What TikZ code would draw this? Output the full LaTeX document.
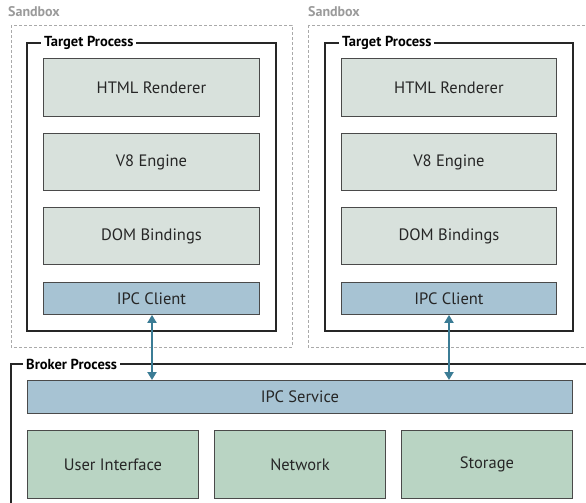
\documentclass[tikz,border=0pt]{standalone}
\usepackage{fontspec}
\usetikzlibrary{arrows.meta}
\setmainfont{PT Sans}
\definecolor{compfill}{HTML}{D8E1DC}
\definecolor{ipcfill}{HTML}{A7C3D3}
\definecolor{brokfill}{HTML}{B9D4C3}
\definecolor{boxline}{HTML}{4A4A4A}
\definecolor{sandline}{HTML}{AAAAAA}
\definecolor{sandtext}{HTML}{9A9A9A}
\definecolor{linkcol}{HTML}{3B7C95}
\tikzset{
  sandbox/.style={draw=sandline, line width=0.8pt, dash pattern=on 3pt off 2pt},
  procbox/.style={draw=black!85, line width=1.8pt},
  comp/.style={draw=boxline, line width=0.9pt, fill=compfill, anchor=north west,
    inner sep=0pt, font=\fontsize{16.5}{19}\selectfont, text=black!85},
  ipc/.style={comp, fill=ipcfill},
  brok/.style={comp, fill=brokfill},
  proclabel/.style={fill=white, inner xsep=3pt, inner ysep=1pt,
    font=\bfseries\fontsize{14.5}{16}\selectfont, anchor=west},
  sandlabel/.style={text=sandtext, inner sep=0pt,
    font=\bfseries\fontsize{14}{16}\selectfont, anchor=west},
  link/.style={draw=linkcol, line width=2pt, {Triangle[length=8pt,width=9pt]}-{Triangle[length=8pt,width=9pt]}}
}
\begin{document}
\begin{tikzpicture}[x=1pt,y=-1pt]
\useasboundingbox (0,0) rectangle (586,503);
\clip (0,0) rectangle (586,503);

% sandboxes
\draw[sandbox] (11,25) rectangle (292,347);
\draw[sandbox] (308,25) rectangle (592,347);
\node[sandlabel] (sb1) at (8,12) {Sandbox};
\node[sandlabel] (sb2) at (308,12) {Sandbox};

% target processes
\draw[procbox] (27,43) rectangle (276,331);
\draw[procbox] (325,43) rectangle (573,331);
\node[proclabel] (tp1) at (41,43) {Target Process};
\node[proclabel] (tp2) at (339,43) {Target Process};

% components of the left target process
\node[comp, minimum width=216pt, minimum height=58pt] (html1) at (43,58) {HTML Renderer};
\node[comp, minimum width=216pt, minimum height=57pt] (v81) at (43,133) {V8 Engine};
\node[comp, minimum width=216pt, minimum height=57pt] (dom1) at (43,207) {DOM Bindings};
\node[ipc, minimum width=216pt, minimum height=32pt] (cli1) at (43,282) {IPC Client};

% components of the right target process
\node[comp, minimum width=215pt, minimum height=58pt] (html2) at (341,58) {HTML Renderer};
\node[comp, minimum width=215pt, minimum height=57pt] (v82) at (341,133) {V8 Engine};
\node[comp, minimum width=215pt, minimum height=57pt] (dom2) at (341,207) {DOM Bindings};
\node[ipc, minimum width=215pt, minimum height=32pt] (cli2) at (341,282) {IPC Client};

% broker process
\draw[procbox] (11,515) -- (11,364) -- (600,364);
\node[proclabel] (bp) at (23,364) {Broker Process};
\node[ipc, minimum width=545pt, minimum height=33pt] (svc) at (27,380) {IPC Service};
\node[brok, minimum width=171pt, minimum height=68pt] (ui) at (27,430) {User Interface};
\node[brok, minimum width=171pt, minimum height=68pt] (net) at (214,430) {Network};
\node[brok, minimum width=171pt, minimum height=68pt] (sto) at (401,430) {Storage};

% IPC links
\coordinate (s1) at (cli1.south -| 152,0);
\coordinate (e1) at (svc.north -| 152,0);
\coordinate (s2) at (cli2.south -| 449,0);
\coordinate (e2) at (svc.north -| 449,0);
\draw[link] (s1) -- (e1);
\draw[link] (s2) -- (e2);
\end{tikzpicture}
\end{document}
